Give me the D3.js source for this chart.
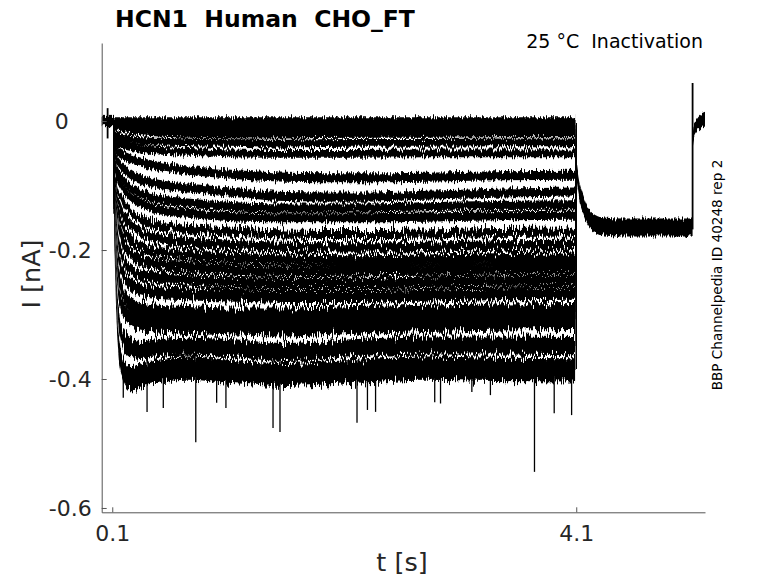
<!DOCTYPE html>
<html>
<head>
<meta charset="utf-8">
<title>HCN1 Human CHO_FT</title>
<script src="https://d3js.org/d3.v7.min.js"></script>
<style>
  body { margin: 0; background: #fff; }
  text { font-family: "DejaVu Sans", sans-serif; }
</style>
</head>
<body>
<script>
// sample times [s] of the hand-read trace levels during the 4 s step
var sampleT = [0.115, 0.14, 0.18, 0.25, 0.35, 0.5, 0.75, 1.1, 1.6, 2.2, 2.8, 3.4, 4.09];

// current [nA] for each sweep at sampleT (top to bottom)
var traceI = [
  [ 0.000,  0.000,  0.000,  0.000,  0.000,  0.000,  0.000,  0.000,  0.000,  0.000,  0.000,  0.000,  0.000],
  [-0.004, -0.005, -0.005, -0.005, -0.006, -0.006, -0.006, -0.006, -0.006, -0.005, -0.005, -0.005, -0.005],
  [-0.006, -0.007, -0.008, -0.009, -0.010, -0.011, -0.012, -0.012, -0.012, -0.012, -0.011, -0.011, -0.011],
  [-0.008, -0.010, -0.012, -0.014, -0.016, -0.018, -0.020, -0.021, -0.021, -0.020, -0.020, -0.019, -0.019],
  [-0.020, -0.024, -0.027, -0.029, -0.031, -0.032, -0.033, -0.034, -0.035, -0.034, -0.034, -0.033, -0.033],
  [-0.030, -0.034, -0.037, -0.040, -0.043, -0.046, -0.048, -0.050, -0.051, -0.051, -0.050, -0.050, -0.050],
  [-0.040, -0.046, -0.052, -0.058, -0.064, -0.070, -0.076, -0.082, -0.087, -0.088, -0.087, -0.085, -0.084],
  [-0.050, -0.060, -0.070, -0.082, -0.091, -0.098, -0.104, -0.110, -0.117, -0.118, -0.115, -0.112, -0.110],
  [-0.060, -0.075, -0.088, -0.102, -0.113, -0.121, -0.127, -0.132, -0.135, -0.135, -0.133, -0.131, -0.130],
  [-0.065, -0.085, -0.100, -0.116, -0.128, -0.137, -0.143, -0.148, -0.150, -0.150, -0.149, -0.147, -0.146],
  [-0.075, -0.100, -0.120, -0.140, -0.153, -0.162, -0.168, -0.172, -0.175, -0.176, -0.175, -0.173, -0.172],
  [-0.080, -0.115, -0.140, -0.160, -0.173, -0.182, -0.188, -0.192, -0.195, -0.196, -0.195, -0.193, -0.192],
  [-0.090, -0.130, -0.160, -0.182, -0.195, -0.203, -0.208, -0.212, -0.215, -0.216, -0.215, -0.213, -0.212],
  [-0.095, -0.145, -0.180, -0.203, -0.215, -0.222, -0.226, -0.230, -0.233, -0.232, -0.231, -0.229, -0.228],
  [-0.100, -0.165, -0.205, -0.228, -0.238, -0.243, -0.246, -0.250, -0.252, -0.252, -0.250, -0.248, -0.247],
  [-0.110, -0.185, -0.230, -0.252, -0.262, -0.266, -0.268, -0.270, -0.272, -0.272, -0.270, -0.268, -0.267],
  [-0.120, -0.210, -0.260, -0.283, -0.292, -0.296, -0.298, -0.300, -0.300, -0.298, -0.296, -0.294, -0.293],
  [-0.130, -0.235, -0.285, -0.305, -0.313, -0.316, -0.318, -0.320, -0.322, -0.318, -0.315, -0.313, -0.312],
  [-0.140, -0.270, -0.330, -0.350, -0.355, -0.352, -0.350, -0.352, -0.358, -0.352, -0.348, -0.348, -0.349],
  [-0.150, -0.300, -0.378, -0.398, -0.395, -0.388, -0.383, -0.388, -0.393, -0.388, -0.383, -0.385, -0.386]
];
// half width of the noise band of each sweep [nA]
var traceNoise = [0.006, 0.006, 0.006, 0.006, 0.006, 0.006, 0.007, 0.007, 0.007, 0.007,
                  0.007, 0.008, 0.008, 0.009, 0.009, 0.010, 0.011, 0.012, 0.014, 0.018];
// sweeps from this index on are the noisy ones
var noisyFrom = 10;

// holding level before the step, common to all sweeps
var baseT = [0.009, 0.115];
var baseI = [0, 0];
// common tail after the step
var tailT = [4.1, 4.125, 4.16, 4.2, 4.25, 4.32, 4.5, 4.8, 5.103];
var tailI = [-0.076, -0.107, -0.130, -0.148, -0.158, -0.163, -0.165, -0.165, -0.165];
var tailNoise = 0.014;
var endT = [5.105, 5.115, 5.14, 5.17, 5.21];
var endI = [-0.028, -0.016, -0.007, -0.001, 0.003];
var endNoise = 0.010;

// capacitive artefacts: time, top, bottom
var artT = [0.06, 5.103];
var artTop = [0.020, 0.059];
var artBottom = [-0.027, -0.168];

// downward noise spikes of the deepest sweeps: time, tip
var spikeT = [0.195, 0.40, 0.54, 0.82, 1.0, 1.08, 1.486, 1.546, 2.21, 2.30, 2.37, 2.88, 2.93, 3.2, 3.36, 3.74, 3.91, 4.06];
var spikeI = [-0.429, -0.451, -0.445, -0.498, -0.437, -0.445, -0.476, -0.482, -0.468, -0.448, -0.451, -0.436, -0.438, -0.420, -0.425, -0.544, -0.453, -0.456];

var xTicks = [0.1, 4.1];
var yTicks = [0, -0.2, -0.4, -0.6];

var width = 778, height = 583;
var svg = d3.select("body").append("svg")
  .attr("width", width)
  .attr("height", height);

var x = d3.scaleLinear().domain([0.009, 5.21]).range([101.7, 705]);
var y = d3.scaleLinear().domain([-0.6067, 0.121]).range([512.3, 43]);

// rough recording noise look, purely visual
var defs = svg.append("defs");
function jitter(id, scale, seed) {
  var f = defs.append("filter").attr("id", id)
    .attr("color-interpolation-filters", "sRGB")
    .attr("x", "-2%").attr("y", "-8%").attr("width", "104%").attr("height", "116%");
  f.append("feTurbulence").attr("type", "fractalNoise")
    .attr("baseFrequency", "0.9 0.05").attr("numOctaves", 2).attr("seed", seed).attr("result", "n");
  f.append("feColorMatrix").attr("in", "n").attr("type", "matrix")
    .attr("values", "0 0 0 0 0.5  0 1 0 0 0  0 0 0 0 0  0 0 0 0 1").attr("result", "m");
  f.append("feDisplacementMap").attr("in", "SourceGraphic").attr("in2", "m")
    .attr("scale", scale).attr("xChannelSelector", "R").attr("yChannelSelector", "G");
}
jitter("jitterLow", 10, 4);
jitter("jitterHigh", 18, 7);

var plotLow = svg.append("g").attr("filter", "url(#jitterLow)");
var plotHigh = svg.append("g").attr("filter", "url(#jitterHigh)");

function band(noise) {
  return d3.area()
    .curve(d3.curveMonotoneX)
    .x(function(d) { return x(d[0]); })
    .y0(function(d) { return y(d[1] - noise); })
    .y1(function(d) { return y(d[1] + noise); });
}
function zip(ts, vs) {
  return ts.map(function(t, j) { return [t, vs[j]]; });
}

// holding level
plotLow.append("path")
  .attr("d", band(0.008)(zip(baseT, baseI)))
  .attr("fill", "black");

traceI.forEach(function(vals, i) {
  var g = i >= noisyFrom ? plotHigh : plotLow;
  g.append("path")
    .attr("d", band(traceNoise[i])(zip(sampleT, vals)))
    .attr("fill", "black");
  // step on / step off
  g.append("line")
    .attr("x1", x(sampleT[0])).attr("x2", x(sampleT[0]))
    .attr("y1", y(baseI[1])).attr("y2", y(vals[0]))
    .attr("stroke", "black").attr("stroke-width", 1.5);
  g.append("line")
    .attr("x1", x(tailT[0])).attr("x2", x(tailT[0]))
    .attr("y1", y(vals[vals.length - 1])).attr("y2", y(tailI[0]))
    .attr("stroke", "black").attr("stroke-width", 1.5);
});

plotLow.append("path")
  .attr("d", band(tailNoise)(zip(tailT, tailI)))
  .attr("fill", "black");
plotLow.append("path")
  .attr("d", band(endNoise)(zip(endT, endI)))
  .attr("fill", "black");

// artefacts and spikes, drawn sharp
var sharp = svg.append("g");
artT.forEach(function(t, i) {
  sharp.append("line")
    .attr("x1", x(t)).attr("x2", x(t))
    .attr("y1", y(artTop[i])).attr("y2", y(artBottom[i]))
    .attr("stroke", "black").attr("stroke-width", 1.8);
});
spikeT.forEach(function(t, i) {
  sharp.append("line")
    .attr("x1", x(t)).attr("x2", x(t))
    .attr("y1", y(-0.37)).attr("y2", y(spikeI[i]))
    .attr("stroke", "black").attr("stroke-width", 1.3);
});

// axes, MATLAB style: ticks pointing in, no box
var axisColor = "#262626";
var gx = svg.append("g")
  .attr("transform", "translate(0," + y.range()[0] + ")")
  .call(d3.axisBottom(x).tickValues(xTicks).tickSizeInner(-5).tickSizeOuter(0)
    .tickPadding(13).tickFormat(function(d) { return String(d); }));
var gy = svg.append("g")
  .attr("transform", "translate(" + x.range()[0] + ",0)")
  .call(d3.axisLeft(y).tickValues(yTicks).tickSizeInner(-5).tickSizeOuter(0)
    .tickPadding(10).tickFormat(function(d) { return String(d); }));

[gx, gy].forEach(function(g) {
  g.select(".domain").attr("stroke", "#555");
  g.selectAll(".tick line").attr("stroke", "#555");
  g.selectAll(".tick text")
    .attr("fill", axisColor)
    .style("font-size", "22px")
    .style("font-family", "'DejaVu Sans', sans-serif");
});
// the zero label sits further left in the original
gy.selectAll(".tick text").filter(function(d) { return d === 0; }).attr("x", -33);

svg.append("text")
  .attr("x", 402).attr("y", 571)
  .attr("text-anchor", "middle")
  .attr("fill", axisColor)
  .style("font-size", "25.5px")
  .text("t [s]");

svg.append("text")
  .attr("transform", "translate(40,274) rotate(-90)")
  .attr("text-anchor", "middle")
  .attr("fill", axisColor)
  .style("font-size", "25.5px")
  .text("I [nA]");

svg.append("text")
  .attr("x", 115).attr("y", 27)
  .style("font-size", "23.5px")
  .style("font-weight", "bold")
  .style("white-space", "pre")
  .text("HCN1  Human  CHO_FT");

svg.append("text")
  .attr("x", 703).attr("y", 48)
  .attr("text-anchor", "end")
  .style("font-size", "19px")
  .style("white-space", "pre")
  .text("25 °C  Inactivation");

svg.append("text")
  .attr("transform", "translate(722,275) rotate(-90)")
  .attr("text-anchor", "middle")
  .style("font-size", "13.6px")
  .text("BBP Channelpedia ID 40248 rep 2");
</script>
</body>
</html>
